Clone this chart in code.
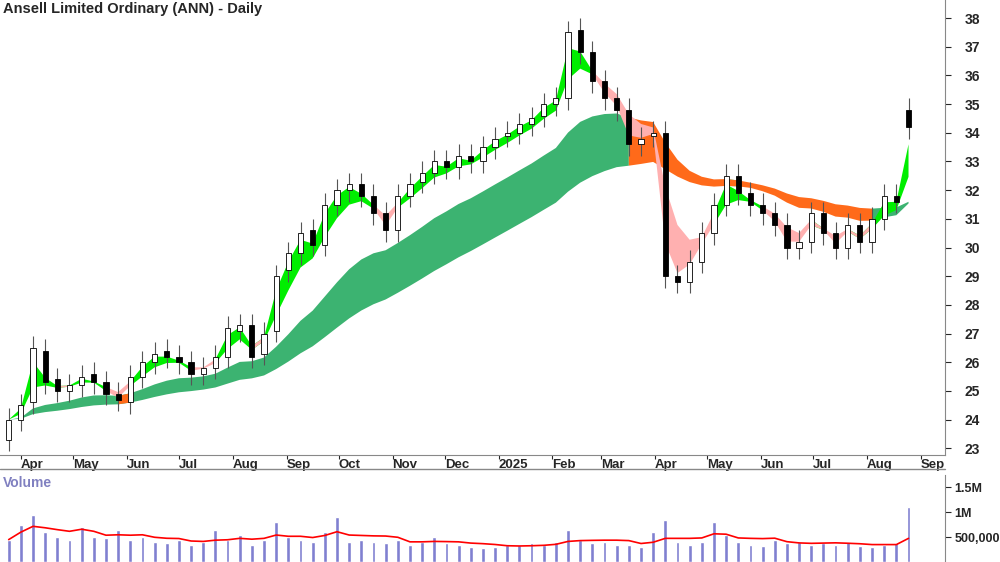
import numpy as np, pandas as pd, matplotlib
matplotlib.use("Agg")
import matplotlib.pyplot as plt, seaborn as sns, matplotlib.dates as mdates

sns.set_style("white")
plt.rcParams['font.family'] = ['Liberation Sans', 'DejaVu Sans']

week_start = "2024-03-25"
closes = [24.0,24.5,26.5,25.3,25.0,25.2,25.5,25.3,24.9,24.7,25.5,26.0,26.3,26.2,26.0,25.6,25.8,26.2,27.2,27.3,
          26.2,27.0,29.0,29.8,30.5,30.1,31.5,32.0,32.2,31.8,31.2,30.6,31.8,32.2,32.6,33.0,32.8,33.2,33.0,33.5,
          33.8,34.0,34.3,34.5,35.0,35.2,37.5,36.8,35.8,35.2,34.8,33.6,33.8,34.0,29.0,28.8,29.5,30.5,31.5,32.5,
          31.9,31.5,31.2,30.8,30.0,30.2,31.2,30.5,30.0,30.8,30.2,31.0,31.8,31.6,34.2]
opens = [23.3,24.0,24.6,26.4,25.4,25.0,25.2,25.6,25.3,24.9,24.6,25.5,26.0,26.4,26.2,26.0,25.6,25.8,26.2,27.1,
         27.3,26.3,27.1,29.2,29.8,30.6,30.1,31.5,32.0,32.2,31.8,31.2,30.6,31.8,32.3,32.6,33.0,32.8,33.2,33.0,
         33.5,33.9,34.0,34.3,34.6,35.0,35.2,37.6,36.8,35.8,35.2,34.8,33.6,33.9,34.0,29.0,28.8,29.5,30.5,31.5,
         32.5,31.9,31.5,31.2,30.8,30.0,30.2,31.2,30.5,30.0,30.8,30.2,31.0,31.8,34.8]
volumes = [4.5e5,7.5e5,9.5e5,6.0e5,5.0e5,4.5e5,7.0e5,5.0e5,4.8e5,6.5e5,4.5e5,5.0e5,4.0e5,3.8e5,4.5e5,3.5e5,4.0e5,6.5e5,4.5e5,5.5e5,
           3.5e5,4.5e5,8.0e5,5.0e5,4.5e5,4.0e5,6.0e5,9.0e5,4.0e5,4.5e5,4.0e5,3.8e5,4.5e5,3.5e5,4.0e5,5.0e5,3.8e5,3.5e5,3.0e5,2.8e5,
           3.0e5,3.5e5,3.5e5,3.8e5,3.5e5,4.0e5,6.5e5,4.5e5,3.8e5,4.0e5,3.5e5,3.5e5,3.0e5,6.0e5,8.5e5,4.0e5,3.5e5,4.0e5,8.0e5,5.5e5,
           4.0e5,3.5e5,3.2e5,4.5e5,3.8e5,4.0e5,3.5e5,3.8e5,3.5e5,4.0e5,3.2e5,3.0e5,3.5e5,3.8e5,1.1e6]
month_labels = ["Apr","May","Jun","Jul","Aug","Sep","Oct","Nov","Dec","2025","Feb","Mar","Apr","May","Jun","Jul","Aug","Sep"]
price_ticks = [23,24,25,26,27,28,29,30,31,32,33,34,35,36,37,38]

dates = pd.date_range(week_start, periods=len(closes), freq="W-MON")
df = pd.DataFrame({"date": dates, "open": opens, "close": closes, "volume": volumes})
x = mdates.date2num(df["date"])
c = df["close"]
short = pd.concat([c.ewm(span=s, adjust=False).mean() for s in [1.6,2,2.5,3,3.5,4]], axis=1)
long_ = pd.concat([c.ewm(span=s, adjust=False).mean() for s in [14,17,20,23,26,30]], axis=1)

fig = plt.figure(figsize=(10, 5.62), dpi=100)
axv = fig.add_axes([0.0, 0.0, 0.945, 0.155])
ax = fig.add_axes([0.0, 0.19, 0.945, 0.81], sharex=axv)

def band(a, g, up, up_col, dn_col):
    lo, hi = g.min(axis=1).values, g.max(axis=1).values
    dn = ~up
    m_up = up | np.r_[False, up[:-1]]
    m_dn = dn | np.r_[False, dn[:-1]]
    a.fill_between(x, lo, hi, where=m_up, color=up_col, lw=0, zorder=1)
    a.fill_between(x, lo, hi, where=m_dn, color=dn_col, lw=0, zorder=1)

long_up = (long_.iloc[:, 0].diff().fillna(1) > 0).values
band(ax, long_, long_up, "#3cb371", "#ff6a1a")
short_up = (short.iloc[:, 0] >= short.iloc[:, -1]).values
band(ax, short, short_up, "#00ee00", "#ffb0b0")

w = 3.0
for xi, o, cl in zip(x, df["open"], df["close"]):
    hi, lo = max(o, cl) + 0.4, min(o, cl) - 0.4
    ax.vlines(xi, lo, hi, color="#555555", lw=0.8, zorder=3)
    ax.add_patch(plt.Rectangle((xi - w/2, min(o, cl)), w, max(abs(cl - o), 0.05),
                               facecolor="white" if cl >= o else "black", edgecolor="black", lw=0.6, zorder=4))

ax.set_ylim(22.76, 38.63)
ax.set_xlim(mdates.date2num(pd.Timestamp("2024-03-20")), mdates.date2num(pd.Timestamp("2025-09-15")))
ax.yaxis.tick_right()
ax.set_yticks(price_ticks)
ax.tick_params(axis="y", labelsize=10, length=4, direction="out", right=True, pad=10)
for t in ax.get_yticklabels(): t.set_fontweight("bold")
mstarts = pd.date_range("2024-04-01", periods=len(month_labels), freq="MS")
ax.set_xticks(mdates.date2num(mstarts))
ax.set_xticklabels(month_labels, fontsize=9.5, fontweight="bold", ha="left")
ax.tick_params(axis="x", length=3, direction="out", bottom=True, labelbottom=True, pad=0)
for s in ["top", "left"]: ax.spines[s].set_visible(False)
ax.spines["bottom"].set_color("#888888"); ax.spines["right"].set_color("#888888")
ax.text(0.003, 0.995, "Ansell Limited Ordinary (ANN) - Daily", transform=ax.transAxes, fontsize=10.5,
        fontweight="bold", va="top", ha="left")

axv.patch.set_alpha(0)
axv.bar(x, df["volume"], width=2.2, color="#8080d0", zorder=2)
ma = df["volume"].rolling(6, min_periods=1).mean()
sns.lineplot(x=x, y=ma.values, ax=axv, color="red", lw=1.2, zorder=3)
axv.set_ylim(0, 1.75e6)
axv.yaxis.tick_right()
axv.set_yticks([5e5, 1e6, 1.5e6]); axv.set_yticklabels(["500,000", "1M", "1.5M"])
axv.tick_params(axis="y", labelsize=9, length=4, right=True, pad=3)
for t in axv.get_yticklabels(): t.set_fontweight("bold")
axv.tick_params(axis="x", bottom=False, labelbottom=False)
for s in ["top", "left", "bottom"]: axv.spines[s].set_visible(False)
axv.spines["right"].set_color("#888888")
axv.text(0.003, 0.99, "Volume", transform=axv.transAxes, fontsize=10, fontweight="bold", color="#8080c0", va="top")
fig.add_artist(plt.Line2D([0, 0.945], [0.165, 0.165], color="#888888", lw=1))
fig.savefig("out.png", dpi=100)
